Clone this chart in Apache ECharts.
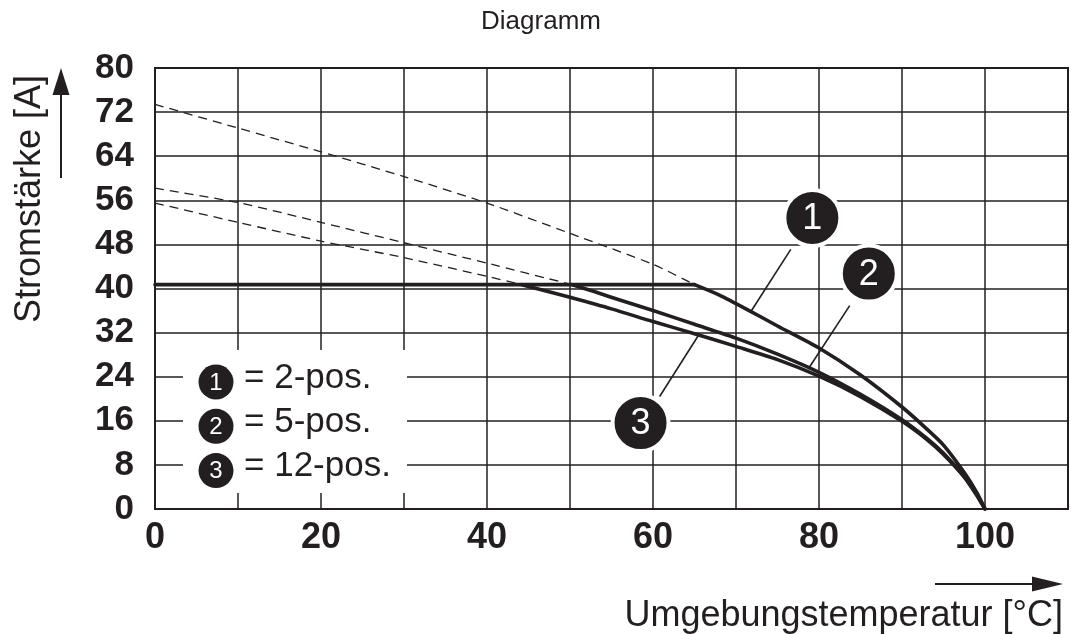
<!DOCTYPE html>
<html><head><meta charset="utf-8">
<script src="https://cdn.jsdelivr.net/npm/echarts@6/dist/echarts.min.js"></script>
<style>html,body{margin:0;padding:0;background:#fff}#c{width:1071px;height:634px}</style>
</head><body><div id="c"></div>
<script>
// ---- data ----
const xLabelValues = [0, 20, 40, 60, 80, 100];
const yTicks = [0, 8, 16, 24, 32, 40, 48, 56, 64, 72, 80];
const flatPart = [[0, 40.7], [65, 40.7]];
const curve1 = [[65, 40.7], [68, 38.8], [71.7, 35.9], [75, 33.2], [80, 29.2], [85, 24.3], [90, 18.5], [93, 14.5], [95, 11.6], [97.5, 6.6], [99, 3.0], [100, 0]];
const curve2 = [[50.2, 40.7], [53, 39.4], [56, 37.9], [60, 36.0], [65, 33.5], [70, 31.0], [75, 28.1], [80, 24.8], [85, 20.8], [90, 16.2], [93, 12.8], [95, 10.1], [97.5, 5.9], [99, 2.6], [100, 0]];
const curve3 = [[44.2, 40.7], [47, 39.6], [50, 38.4], [55, 36.3], [60, 34.0], [65, 31.8], [70, 29.5], [75, 27.1], [80, 24.1], [85, 20.4], [90, 15.9], [93, 12.6], [95, 9.9], [97.5, 5.8], [99, 2.5], [100, 0]];
const dashed1 = [[0, 73.4], [10, 69.1], [20, 64.8], [30, 60.3], [40, 55.5], [50, 50.0], [60, 44.4], [65, 40.7]];
const dashed2 = [[0, 58.2], [10, 55.6], [20, 52.0], [30, 48.3], [40, 44.6], [50.2, 40.7]];
const dashed3 = [[0, 55.5], [10, 52.0], [20, 48.6], [30, 45.6], [40, 42.2], [44.2, 40.7]];
// callouts: number, circle centre, leader start, leader end (data units)
const calloutNames = ['1', '2', '3'];
const calloutCentres = [[79.2, 52.8], [86.0, 42.7], [58.5, 15.6]];
const leaderStarts = [[76.6, 47.1], [83.7, 36.9], [60.8, 20.4]];
const leaderEnds = [[71.7, 35.6], [78.7, 25.4], [65.6, 31.8]];
const legendNumbers = ['1', '2', '3'];
const legendTexts = ['= 2-pos.', '= 5-pos.', '= 12-pos.'];

const INK = '#231f20';
const FONT = '"Liberation Sans", Arial, Helvetica, sans-serif';

const solid = (data, smooth) => ({
  type: 'line', data, symbol: 'none', smooth: smooth,
  lineStyle: { color: INK, width: 3.6, cap: 'round', join: 'round' }, z: 5, silent: true
});
const dashed = (data) => ({
  type: 'line', data, symbol: 'none', smooth: 0.2,
  lineStyle: { color: INK, width: 1.3, type: [9, 6] }, z: 4, silent: true
});

const calloutSeries = {
  type: 'line', data: [], symbol: 'none', silent: true, z: 8,
  markLine: {
    silent: true, symbol: ['none', 'none'], label: { show: false },
    lineStyle: { color: INK, width: 1.6, type: 'solid' }, z: 8,
    data: leaderStarts.map((s, i) => [{ coord: s }, { coord: leaderEnds[i] }])
  },
  markPoint: {
    silent: true, symbol: 'circle', symbolSize: 56, z: 9,
    itemStyle: { color: INK, borderColor: '#fff', borderWidth: 4 },
    label: { show: true, color: '#fff', fontSize: 36, fontFamily: FONT, formatter: p => p.name, offset: [0, 1] },
    data: calloutCentres.map((c, i) => ({ name: calloutNames[i], coord: c }))
  }
};

const graphics = [
  { type: 'text', x: 541, y: 22, style: { text: 'Diagramm', font: '26px ' + FONT, fill: INK, align: 'center', verticalAlign: 'middle' } },
  { type: 'text', x: 30, y: 199, rotation: Math.PI / 2, style: { text: 'Stromstärke [A]', font: '36px ' + FONT, fill: INK, align: 'center', verticalAlign: 'middle' } },
  { type: 'line', shape: { x1: 61, y1: 178, x2: 61, y2: 90 }, style: { stroke: INK, lineWidth: 2 } },
  { type: 'polygon', shape: { points: [[61, 68], [52.5, 95], [69.5, 95]] }, style: { fill: INK } },
  { type: 'text', x: 1063, y: 616, style: { text: 'Umgebungstemperatur [°C]', font: '36px ' + FONT, fill: INK, align: 'right', verticalAlign: 'middle' } },
  { type: 'line', shape: { x1: 935, y1: 584, x2: 1040, y2: 584 }, style: { stroke: INK, lineWidth: 2 } },
  { type: 'polygon', shape: { points: [[1063, 584], [1032, 576.5], [1032, 591.5]] }, style: { fill: INK } },
  { type: 'rect', z: 20, shape: { x: 183, y: 350, width: 224, height: 143 }, style: { fill: '#fff' } }
];
legendNumbers.forEach((n, i) => {
  const cy = 382 + i * 44.3;
  graphics.push({ type: 'circle', z: 21, shape: { cx: 216, cy: cy, r: 17.5 }, style: { fill: INK } });
  graphics.push({ type: 'text', z: 22, x: 216, y: cy + 1, style: { text: n, font: '24px ' + FONT, fill: '#fff', align: 'center', verticalAlign: 'middle' } });
  graphics.push({ type: 'text', z: 22, x: 244, y: cy - 4, style: { text: legendTexts[i], font: '35px ' + FONT, fill: INK, align: 'left', verticalAlign: 'middle' } });
});

const chart = echarts.init(document.getElementById('c'), null, { renderer: 'canvas' });
chart.setOption({
  animation: false,
  backgroundColor: '#fff',
  grid: { left: 155, right: 1, top: 68, bottom: 125, show: true, borderColor: INK, borderWidth: 2 },
  xAxis: {
    type: 'value', min: 0, max: 110, interval: 10,
    axisLine: { show: true, lineStyle: { color: INK, width: 2 } },
    axisTick: { show: false },
    splitLine: { show: true, lineStyle: { color: INK, width: 1.5 } },
    axisLabel: {
      fontSize: 36, fontWeight: 'bold', color: INK, margin: 11, fontFamily: FONT,
      formatter: v => xLabelValues.indexOf(v) >= 0 ? String(v) : ''
    }
  },
  yAxis: {
    type: 'value', min: 0, max: 80, interval: 8,
    axisLine: { show: true, lineStyle: { color: INK, width: 2 } },
    axisTick: { show: false },
    splitLine: { show: true, lineStyle: { color: INK, width: 1.5 } },
    axisLabel: {
      fontSize: 35, fontWeight: 'bold', color: INK, margin: 21, fontFamily: FONT,
      formatter: v => yTicks.indexOf(v) >= 0 ? String(v) : ''
    }
  },
  series: [
    dashed(dashed1), dashed(dashed2), dashed(dashed3),
    solid(flatPart, false), solid(curve1, 0.25), solid(curve2, 0.25), solid(curve3, 0.25),
    calloutSeries
  ],
  graphic: graphics
});
</script>
</body></html>
